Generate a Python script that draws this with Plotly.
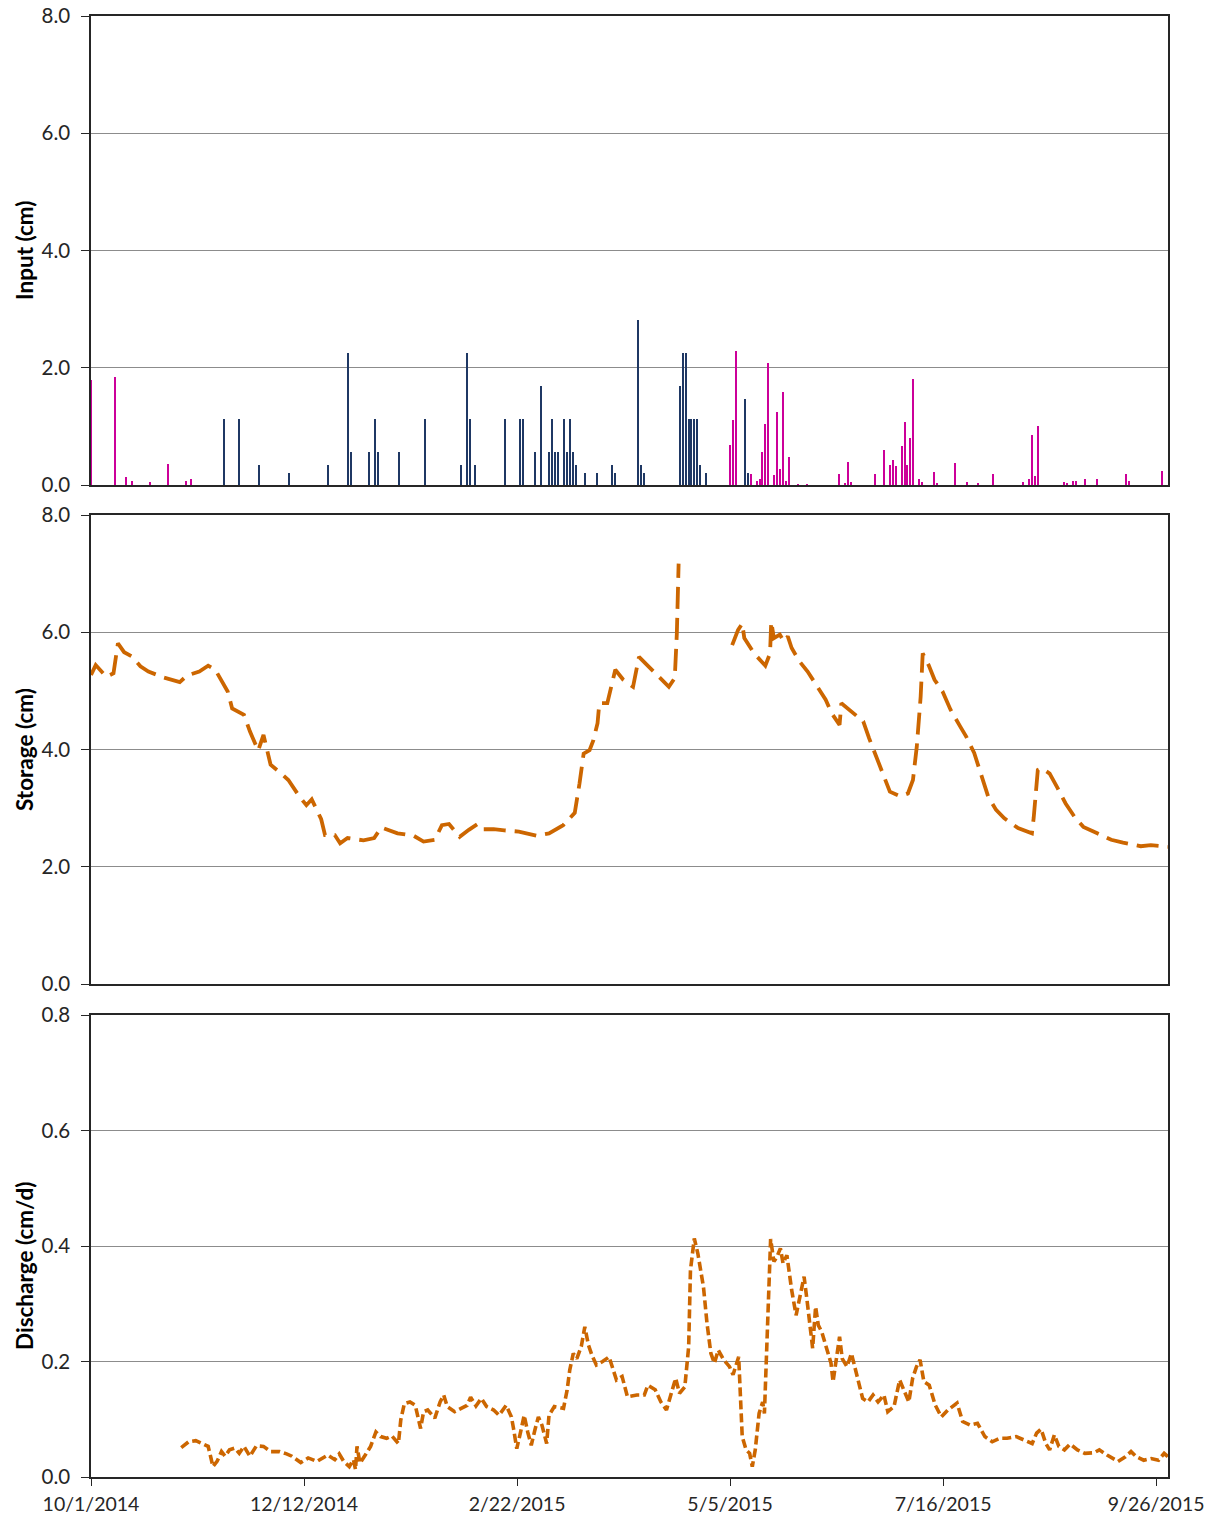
import pandas as pd
import plotly.graph_objects as go
from plotly.subplots import make_subplots

START = pd.Timestamp("2014-10-01")

# ---- Input bars (day offset from 10/1/2014, cm) ----
rain_days = [0, 8, 12, 14, 20, 26, 32, 34, 216, 217, 218, 223, 225, 226, 227, 228, 229,
             231, 232, 233, 234, 235, 236, 239, 242, 253, 255, 256, 257, 265, 268, 270,
             271, 272, 274, 275, 276, 277, 278, 280, 281, 285, 286, 292, 296, 300, 305,
             315, 317, 318, 319, 320, 329, 330, 332, 333, 336, 340, 350, 351, 362]
rain_vals = [1.79, 1.84, 0.13, 0.06, 0.05, 0.36, 0.06, 0.10, 0.69, 1.11, 2.29, 0.19, 0.06,
             0.11, 0.56, 1.04, 2.08, 0.17, 1.24, 0.27, 1.58, 0.06, 0.47, 0.01, 0.01, 0.19,
             0.03, 0.39, 0.05, 0.19, 0.60, 0.34, 0.43, 0.32, 0.67, 1.08, 0.34, 0.81, 1.80,
             0.10, 0.05, 0.23, 0.03, 0.38, 0.05, 0.02, 0.19, 0.05, 0.11, 0.85, 0.15, 1.00,
             0.05, 0.03, 0.06, 0.06, 0.10, 0.10, 0.19, 0.06, 0.24]

melt_days = [45, 50, 57, 67, 80, 87, 88, 94, 96, 97, 104, 113, 125, 127, 128, 130, 140,
             145, 146, 150, 152, 155, 156, 157, 158, 160, 161, 162, 163, 164, 167, 171,
             176, 177, 185, 186, 187, 199, 200, 201, 202, 203, 204, 205, 206, 208, 221, 222]
melt_vals = [1.12, 1.12, 0.34, 0.21, 0.34, 2.26, 0.56, 0.56, 1.12, 0.56, 0.56, 1.12, 0.34,
             2.26, 1.12, 0.34, 1.12, 1.12, 1.12, 0.56, 1.69, 0.56, 1.12, 0.56, 0.56, 1.12,
             0.56, 1.12, 0.56, 0.34, 0.21, 0.21, 0.34, 0.21, 2.82, 0.34, 0.21, 1.69, 2.26,
             2.26, 1.12, 1.12, 1.12, 1.12, 0.34, 0.21, 1.46, 0.20]

# ---- Storage (cm); None marks missing record ----
storage_days = [0, 1.6, 5.2, 7.6, 9.1, 11.2, 13.7, 16.7, 19.4, 24.5, 30, 32.4, 36.6, 39.6,
                42, 43.8, 46.2, 47.7, 51.7, 53.7, 56.5, 58.3, 60.7, 64.1, 66.7, 70.4, 72.8,
                74.6, 77.8, 79.1, 82.4, 84.2, 86.7, 92.1, 95.7, 98.1, 103.6, 109, 112.4,
                116.2, 118.6, 121, 124.6, 127.7, 130.7, 132.5, 136.1, 139.7, 144.6, 150.6,
                154.8, 159.6, 163.5, 165.1, 166.5, 168.5, 169.8, 171.2, 171.8, 174.5, 175.9,
                177.2, 179.9, 183.2, 185.2, 187.9, 191.9, 195.3, 197.3, 198, 198.6, 207,
                216.7, 218.7, 220.1, 220.8, 224.1, 227.9, 229.5, 229.9, 230.8, 232.8, 234.2,
                235.5, 236.8, 239.5, 242.2, 245.6, 248.3, 250.3, 253, 253.6, 257, 261, 263,
                265, 266.8, 268.6, 270, 273.5, 276.1, 277.8, 279.1, 280.4, 281.1, 283.1,
                285.1, 287.8, 290.5, 293.8, 295.8, 298.5, 301.2, 303.2, 305.9, 308.6, 313.3,
                318, 318.6, 320, 321.3, 324, 326.7, 329.4, 332.7, 335.4, 340.1, 344.8, 348.8,
                354.8, 358.2, 364]
storage_vals = [5.27, 5.44, 5.24, 5.30, 5.81, 5.66, 5.59, 5.42, 5.33, 5.23, 5.15, 5.26, 5.33,
                5.43, 5.36, 5.20, 4.99, 4.70, 4.59, 4.31, 3.98, 4.25, 3.74, 3.60, 3.48, 3.20,
                3.05, 3.15, 2.81, 2.54, 2.54, 2.40, 2.49, 2.45, 2.49, 2.67, 2.57, 2.53, 2.43,
                2.46, 2.71, 2.73, 2.51, 2.63, 2.73, 2.64, 2.64, 2.62, 2.60, 2.53, 2.57, 2.71,
                2.92, 3.42, 3.93, 3.99, 4.16, 4.45, 4.79, 4.79, 5.07, 5.36, 5.19, 5.07, 5.58,
                5.44, 5.24, 5.07, 5.22, 5.98, 7.17, None,
                5.78, 6.04, 6.15, 5.90, 5.64, 5.43, 5.64, 6.18, 5.90, 5.96, 5.84, 5.93, 5.73,
                5.50, 5.33, 5.07, 4.85, 4.62, 4.42, 4.79, 4.65, 4.48, 4.19, 3.94, 3.68, 3.45,
                3.28, 3.20, 3.25, 3.48, 4.05, 4.90, 5.64, 5.44, 5.19, 4.99, 4.68, 4.39, 4.22,
                3.94, 3.51, 3.20, 2.97, 2.83, 2.66, 2.57, 2.83, 3.65, 3.68, 3.59, 3.34, 3.08,
                2.83, 2.68, 2.57, 2.46, 2.41, 2.35, 2.37, 2.34]

# ---- Discharge (cm/d) ----
discharge_days = [30.5, 33, 35.4, 37.8, 39.6, 40.4, 41.2, 42.6, 44.1, 45.3, 46.8, 48.6, 50.1,
                  51.7, 53.7, 55.9, 58.3, 60.7, 63.7, 66.1, 67.9, 70.9, 73.4, 76.4, 80, 82.4,
                  83.9, 85.4, 87.3, 88.7, 89.4, 89.9, 90.9, 92.7, 94.5, 96.3, 97.9, 99.9,
                  101.7, 103.9, 104.7, 105.9, 107.8, 109.6, 111.4, 112.4, 113.8, 116.2, 118,
                  119.2, 120.4, 122.9, 125.3, 127.1, 128.3, 130.1, 131.9, 133.7, 136.1, 137.9,
                  140.3, 142.1, 142.8, 143.9, 145.2, 146.4, 147.6, 148.8, 150, 151.2, 152.4,
                  154, 154.8, 156.6, 159.7, 160.9, 161.8, 163, 164.2, 165.7, 166.9, 168.1,
                  169.3, 170.8, 172.9, 175.1, 177.6, 179.5, 181.3, 184.5, 187, 188.2, 190.7,
                  192.6, 194.5, 195.7, 197.6, 198.9, 200.7, 202, 202.6, 203.9, 205.1, 207,
                  208.2, 209.5, 210.7, 212, 213.8, 215.8, 217, 218.9, 219.5, 220.1, 221.4,
                  222.6, 223.5, 224.5, 225.8, 227, 227.6, 228.2, 229.2, 229.7, 230.8, 231.8,
                  233, 233.9, 235.2, 236.8, 238.3, 239.5, 241, 242, 243, 243.9, 244.9, 245.8,
                  247, 248.6, 250.1, 250.8, 253, 253.9, 255.5, 257, 258.9, 260.8, 262.6,
                  264.3, 266, 268, 269.3, 271.4, 273.3, 275.2, 276.4, 277.7, 279, 280.2,
                  281.5, 283.3, 285.3, 287.4, 289.6, 292.7, 294.6, 297.1, 299.6, 302.1,
                  304.6, 307.1, 309.6, 312.7, 315.2, 318.1, 319.6, 321.1, 322.7, 324, 325.6,
                  327.1, 329, 330.9, 333.4, 335.9, 339, 340.8, 343.4, 345.2, 347.1, 349.6,
                  351.5, 353.3, 355.8, 358.3, 360.8, 362.7, 364]
discharge_vals = [0.051, 0.061, 0.063, 0.057, 0.053, 0.036, 0.018, 0.027, 0.044, 0.036, 0.047,
                  0.050, 0.041, 0.053, 0.036, 0.054, 0.053, 0.044, 0.044, 0.040, 0.036, 0.025,
                  0.033, 0.027, 0.038, 0.030, 0.040, 0.027, 0.018, 0.030, 0.013, 0.053, 0.024,
                  0.038, 0.053, 0.078, 0.070, 0.067, 0.071, 0.058, 0.099, 0.127, 0.130, 0.124,
                  0.084, 0.113, 0.116, 0.102, 0.130, 0.142, 0.122, 0.113, 0.119, 0.124, 0.138,
                  0.123, 0.136, 0.122, 0.116, 0.107, 0.124, 0.104, 0.084, 0.049, 0.078, 0.107,
                  0.078, 0.055, 0.081, 0.104, 0.090, 0.058, 0.107, 0.122, 0.119, 0.150, 0.185,
                  0.214, 0.205, 0.226, 0.260, 0.229, 0.211, 0.194, 0.200, 0.208, 0.168, 0.174,
                  0.139, 0.142, 0.142, 0.159, 0.151, 0.130, 0.116, 0.139, 0.171, 0.145, 0.156,
                  0.226, 0.358, 0.413, 0.387, 0.329, 0.266, 0.214, 0.197, 0.220, 0.203, 0.191,
                  0.177, 0.208, 0.145, 0.070, 0.047, 0.041, 0.018, 0.047, 0.110, 0.130, 0.110,
                  0.197, 0.329, 0.412, 0.373, 0.381, 0.396, 0.370, 0.384, 0.324, 0.280, 0.309,
                  0.347, 0.306, 0.254, 0.223, 0.295, 0.263, 0.251, 0.223, 0.197, 0.165, 0.243,
                  0.205, 0.191, 0.214, 0.174, 0.136, 0.130, 0.142, 0.130, 0.142, 0.113, 0.122,
                  0.168, 0.145, 0.130, 0.171, 0.191, 0.203, 0.165, 0.159, 0.125, 0.104, 0.116,
                  0.128, 0.096, 0.090, 0.093, 0.070, 0.061, 0.067, 0.067, 0.070, 0.064, 0.058,
                  0.076, 0.083, 0.058, 0.047, 0.073, 0.053, 0.047, 0.057, 0.047, 0.041, 0.042,
                  0.047, 0.038, 0.032, 0.027, 0.035, 0.044, 0.035, 0.029, 0.032, 0.029, 0.041,
                  0.035]

tick_dates = ["2014-10-01", "2014-12-12", "2015-02-22", "2015-05-05", "2015-07-16", "2015-09-26"]
tick_text = ["10/1/2014", "12/12/2014", "2/22/2015", "5/5/2015", "7/16/2015", "9/26/2015"]

axis_titles = ["Input (cm)", "Storage (cm)", "Discharge (cm/d)"]


def to_dates(days):
    return [START + pd.Timedelta(days=float(d)) for d in days]


FONT = "Lato"
ORANGE = "#CC6600"
BAR_W = 0.45 * 86400000

fig = make_subplots(rows=3, cols=1, shared_xaxes=False, vertical_spacing=0.02)

fig.add_trace(go.Bar(x=to_dates(melt_days), y=melt_vals, width=BAR_W,
                     marker=dict(color="#1F3864", line=dict(width=0)), name="Snowmelt"),
              row=1, col=1)
fig.add_trace(go.Bar(x=to_dates(rain_days), y=rain_vals, width=BAR_W,
                     marker=dict(color="#CC0099", line=dict(width=0)), name="Rain"),
              row=1, col=1)
fig.add_trace(go.Scatter(x=to_dates(storage_days), y=storage_vals, mode="lines",
                         connectgaps=False,
                         line=dict(color=ORANGE, width=3.8, dash="22px,9px"), name="Storage"),
              row=2, col=1)
fig.add_trace(go.Scatter(x=to_dates(discharge_days), y=discharge_vals, mode="lines",
                         line=dict(color=ORANGE, width=3.6, dash="9px,4px"), name="Discharge"),
              row=3, col=1)

H = 1519
W = 1216
top_m, bot_m, left_m, right_m = 16, 42, 91, 48
ph = H - top_m - bot_m
pw = W - left_m - right_m


def dom(y_top, y_bot):
    return [(H - bot_m - y_bot) / ph, (H - bot_m - y_top) / ph]


x_range = [START, pd.Timestamp("2015-09-30")]
common_x = dict(range=x_range, type="date", showgrid=False, zeroline=False, automargin=False,
                showline=True, linecolor="#262626", linewidth=1.5, mirror=True,
                tickvals=tick_dates, ticktext=tick_text,
                tickfont=dict(family=FONT, size=19.5, color="#262626"))

fig.update_xaxes(**common_x)
fig.update_xaxes(showticklabels=False, ticks="", row=1, col=1)
fig.update_xaxes(showticklabels=False, ticks="", row=2, col=1)
fig.update_xaxes(ticks="outside", ticklen=7, tickcolor="#262626", tickwidth=1.2,
                 ticklabelstandoff=2, row=3, col=1)

common_y = dict(showgrid=True, gridcolor="#8C8C8C", gridwidth=1, zeroline=False,
                automargin=False,
                showline=True, linecolor="#262626", linewidth=1.5, mirror=True,
                ticks="outside", ticklen=8, tickcolor="#262626", tickwidth=1.2,
                ticklabelstandoff=7,
                tickfont=dict(family=FONT, size=20.5, color="#262626"),
                tickformat=".1f")

fig.update_yaxes(**common_y)
fig.update_yaxes(range=[0, 8], dtick=2, tick0=0, row=1, col=1)
fig.update_yaxes(range=[0, 8], dtick=2, tick0=0, row=2, col=1)
fig.update_yaxes(range=[0, 0.8], dtick=0.2, tick0=0, row=3, col=1)

fig.update_layout(
    xaxis=dict(domain=[0, 1]), xaxis2=dict(domain=[0, 1]), xaxis3=dict(domain=[0, 1]),
    yaxis=dict(domain=dom(16, 485)),
    yaxis2=dict(domain=dom(515, 984)),
    yaxis3=dict(domain=dom(1015, 1477)),
)

# axis titles placed as rotated annotations (pixel centres)
title_centres_px = [250, 750, 1266]
for txt, yc in zip(axis_titles, title_centres_px):
    fig.add_annotation(text=f"<b>{txt}</b>", textangle=-90, showarrow=False,
                       xref="paper", yref="paper",
                       x=(24 - left_m) / pw, y=(H - bot_m - yc) / ph,
                       xanchor="center", yanchor="middle",
                       font=dict(family=FONT, size=22.5, color="#000000"))

fig.update_layout(
    width=W, height=H,
    margin=dict(l=left_m, r=right_m, t=top_m, b=bot_m),
    paper_bgcolor="white", plot_bgcolor="white",
    showlegend=False, bargap=0, barmode="overlay",
    font=dict(family=FONT),
)

fig.write_html("out.html")
